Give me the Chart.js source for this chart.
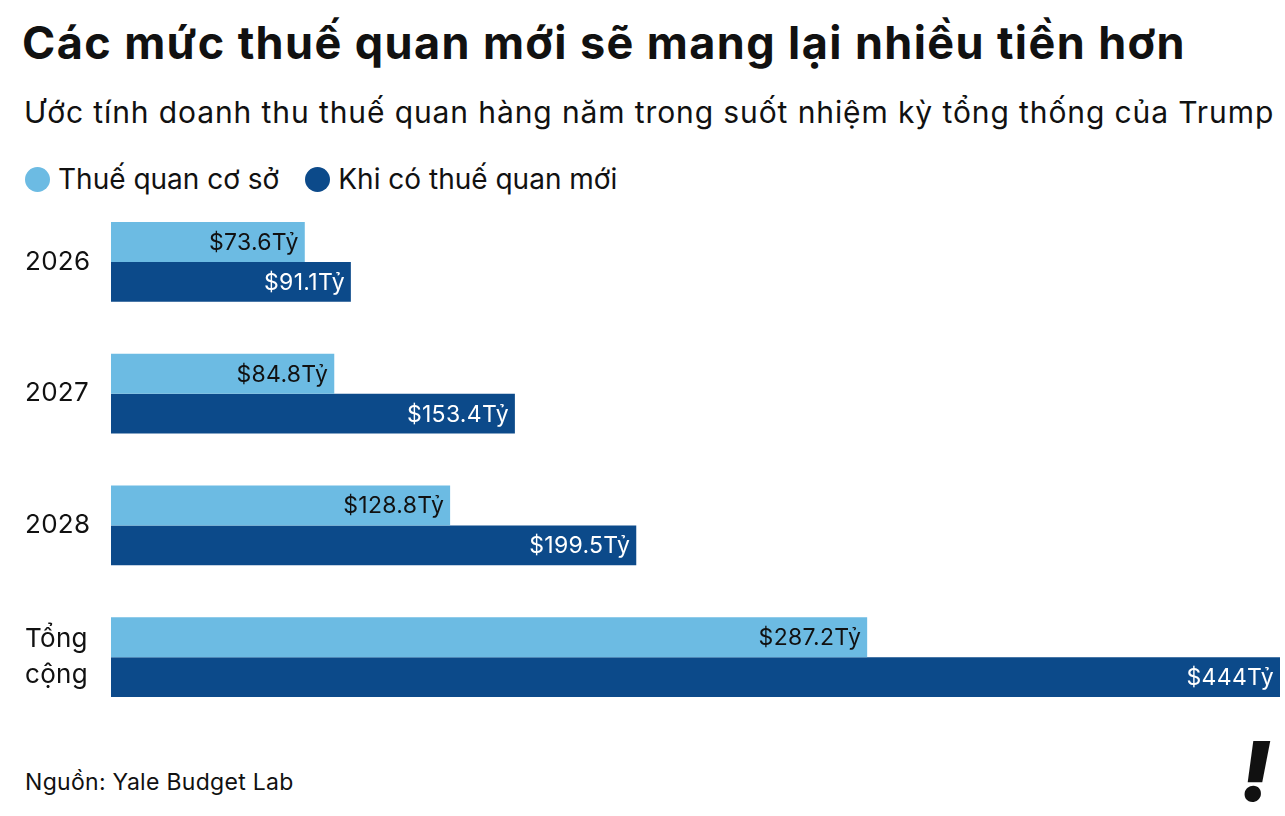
<!DOCTYPE html>
<html>
<head>
<meta charset="utf-8">
<script src="https://cdn.jsdelivr.net/npm/chart.js@4.4.1/dist/chart.umd.min.js"></script>
<style>
  body { margin: 0; background: #fff; width: 1285px; height: 816px; overflow: hidden; font-family: "Inter", "Noto Sans", sans-serif; color: #111; }
  .abs { position: absolute; white-space: nowrap; }
  #title { left: 22px; top: 15px; font-size: 45px; font-weight: 700; letter-spacing: 1.4px; }
  #subtitle { left: 24px; top: 94px; font-size: 30px; font-weight: 400; letter-spacing: 0.9px; }
  #legend { left: 25px; top: 162px; font-size: 28px; display: flex; align-items: center; }
  .dot { width: 25px; height: 25px; border-radius: 50%; display: inline-block; margin-right: 8px; }
  #source { left: 25px; top: 768px; font-size: 23px; letter-spacing: 0.3px; }
  #logo { left: 1240px; top: 722px; font-size: 82px; font-weight: 900; font-style: italic; }
  #wrap { position: absolute; left: 0; top: 196px; width: 1285px; height: 527px; }
</style>
</head>
<body>
<div id="title" class="abs">Các mức thuế quan mới sẽ mang lại nhiều tiền hơn</div>
<div id="subtitle" class="abs">Ước tính doanh thu thuế quan hàng năm trong suốt nhiệm kỳ tổng thống của Trump</div>
<div id="legend" class="abs">
  <span class="dot" style="background:#6cbbe3"></span><span>Thuế quan cơ sở</span>
  <span class="dot" style="background:#0c4a8a; margin-left:26px"></span><span>Khi có thuế quan mới</span>
</div>
<div id="wrap"><canvas id="chart"></canvas></div>
<div id="source" class="abs">Nguồn: Yale Budget Lab</div>
<div id="logo" class="abs">!</div>
<script>
// dữ liệu
const categories = ['2026', '2027', '2028', ['Tổng', 'cộng']];
const baseline = [73.6, 84.8, 128.8, 287.2];
const withNew = [91.1, 153.4, 199.5, 444];
const xMax = 444;

const lightBlue = '#6cbbe3';
const darkBlue = '#0c4a8a';

// value labels inside the bar ends + category names on the left
const barLabels = {
  id: 'barLabels',
  afterDatasetsDraw(chart) {
    const ctx = chart.ctx;
    ctx.save();
    ctx.textBaseline = 'middle';
    ctx.font = '23px Inter, "Noto Sans", sans-serif';
    ctx.letterSpacing = '0.3px';
    ctx.textAlign = 'right';
    chart.data.datasets.forEach((ds, i) => {
      const meta = chart.getDatasetMeta(i);
      meta.data.forEach((bar, j) => {
        ctx.fillStyle = i === 0 ? '#111' : '#fff';
        ctx.fillText(`$${ds.data[j]}Tỷ`, bar.x - 6, bar.y + 1);
      });
    });

    // category labels
    const yScale = chart.scales.y;
    ctx.font = '26px Inter, "Noto Sans", sans-serif';
    ctx.textAlign = 'left';
    ctx.fillStyle = '#111';
    categories.forEach((c, j) => {
      const lines = Array.isArray(c) ? c : [c];
      const yc = yScale.getPixelForValue(j);
      const lh = 36;
      lines.forEach((ln, k) => {
        ctx.fillText(ln, 25, yc + (k - (lines.length - 1) / 2) * lh);
      });
    });
    ctx.restore();
  }
};

const chart = new Chart(document.getElementById('chart'), {
  type: 'bar',
  data: {
    labels: categories,
    datasets: [
      { label: 'Thuế quan cơ sở', data: baseline, backgroundColor: lightBlue },
      { label: 'Khi có thuế quan mới', data: withNew, backgroundColor: darkBlue }
    ]
  },
  options: {
    indexAxis: 'y',
    responsive: true,
    maintainAspectRatio: false,
    animation: false,
    barPercentage: 1,
    categoryPercentage: 0.607,
    layout: { padding: { left: 111, right: 5, top: 0, bottom: 0 } },
    plugins: {
      legend: { display: false },
      tooltip: { enabled: false }
    },
    scales: {
      x: { display: false, min: 0, max: xMax },
      y: { display: false }
    }
  },
  plugins: [barLabels]
});
</script>
</body>
</html>
